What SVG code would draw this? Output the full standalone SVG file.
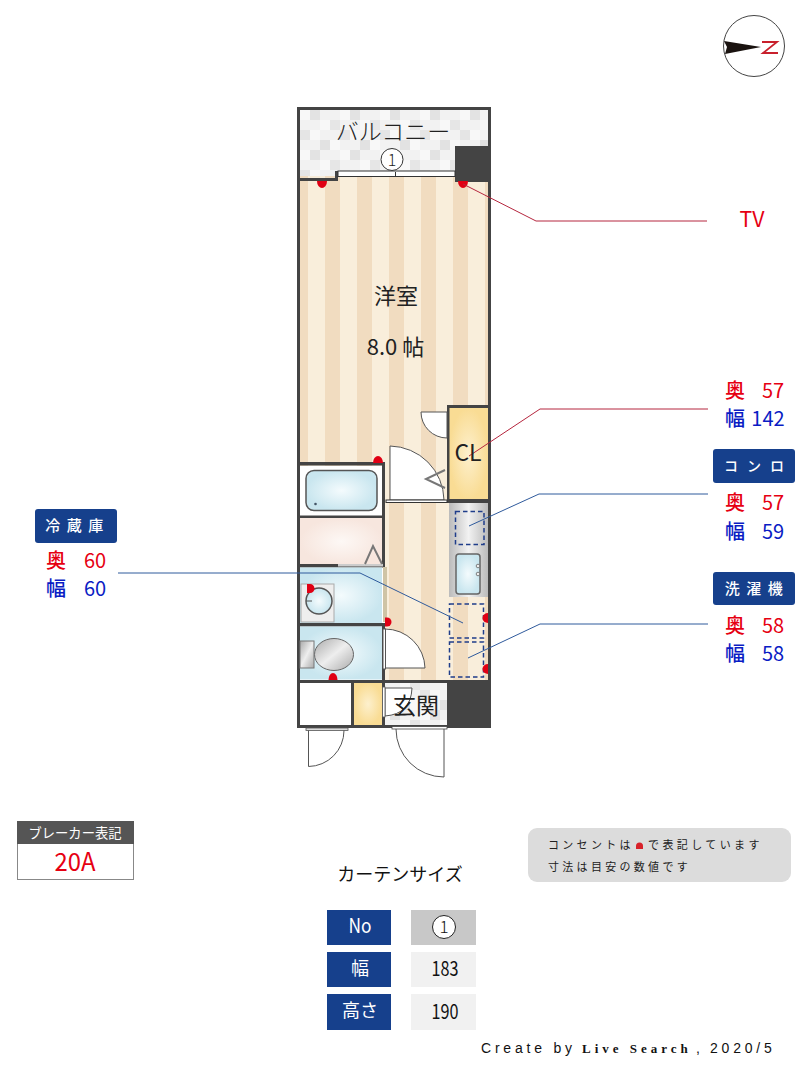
<svg xmlns="http://www.w3.org/2000/svg" width="800" height="1066" viewBox="0 0 800 1066">
<style>
text{font-family:"Noto Sans CJK JP","Noto Sans",sans-serif}
.w{fill:#444}
.red{fill:#e60012}
.blue{fill:#0a1cc4}
.lab{font-size:20px;text-anchor:middle}
.tag{font-size:15px;fill:#fff;text-anchor:middle;letter-spacing:6.500px;font-weight:500}
.dash{fill:none;stroke:#1f3d8a;stroke-width:1.500;stroke-dasharray:4.500 3}
.ln{fill:none;stroke:#555;stroke-width:1}
.door{fill:#fff;stroke:#555;stroke-width:1}
.dot{fill:#e00014}
.hd{fill:#16408c}
.tb{font-size:18px;text-anchor:middle}
.cr{font-family:"Liberation Sans",sans-serif;font-size:14px;letter-spacing:3.800px}
.cs{font-family:"Liberation Serif",serif;font-size:13px;font-weight:bold;letter-spacing:4px}
</style>
<defs>
<pattern id="st" width="32" height="10" patternUnits="userSpaceOnUse" x="293">
<rect width="32" height="10" fill="#f9eedb"/><rect width="15" height="10" fill="#f1dcc0"/>
</pattern>
<pattern id="tile" width="40" height="40" patternUnits="userSpaceOnUse" x="300" y="110">
<rect width="40" height="40" fill="#f2f2f2"/>
<rect x="10" y="0" width="10" height="10" fill="#e3e3e3"/><rect x="30" y="10" width="10" height="10" fill="#e6e6e6"/>
<rect x="0" y="20" width="10" height="10" fill="#e5e5e5"/><rect x="20" y="30" width="10" height="10" fill="#e2e2e2"/>
<rect x="20" y="10" width="10" height="10" fill="#f8f8f8"/><rect x="0" y="0" width="10" height="10" fill="#f8f8f8"/>
<rect x="30" y="30" width="10" height="10" fill="#f8f8f8"/><rect x="10" y="20" width="10" height="10" fill="#f8f8f8"/>
</pattern>
<radialGradient id="yl"><stop offset="0" stop-color="#fdf0cd"/><stop offset="1" stop-color="#f9dc94"/></radialGradient>
<radialGradient id="bl"><stop offset="0" stop-color="#f4fbfd"/><stop offset="1" stop-color="#c9e6ef"/></radialGradient>
<radialGradient id="pk"><stop offset="0" stop-color="#fdf8f5"/><stop offset="1" stop-color="#f7e6de"/></radialGradient>
<linearGradient id="gr" x1="0" x2="1" y1="0" y2="0"><stop offset="0" stop-color="#bbb"/><stop offset=".5" stop-color="#f2f2f2"/><stop offset="1" stop-color="#bbb"/></linearGradient>
<linearGradient id="sv" x1="0" x2="1" y1="0" y2="1"><stop offset="0" stop-color="#aaa"/><stop offset=".5" stop-color="#eee"/><stop offset="1" stop-color="#aaa"/></linearGradient>
</defs>

<g id="compass">
<circle cx="754" cy="46" r="30.500" fill="#fff" stroke="#444" stroke-width="1"/>
<path d="M724 41L761 47L725 54L727 47Z" fill="#1a1310"/>
<path d="M762 42H777L763 53H778" fill="none" stroke="#c8202c" stroke-width="1.800"/>
</g>

<g id="plan">
<rect x="297" y="107" width="194" height="621" fill="#fff"/>
<rect x="300" y="110" width="188" height="70" fill="url(#tile)"/>
<rect x="299" y="176" width="190" height="325" fill="url(#st)"/>
<rect x="385" y="501" width="104" height="180" fill="url(#st)"/>
<path class="w" d="M297 107H491V110H297Z"/>
<rect class="w" x="455" y="146" width="36" height="36"/>
<path class="w" d="M297 178H335V171H338V181H297Z"/>
<rect x="338" y="171" width="117" height="5.500" fill="#fff" stroke="#333" stroke-width="1"/>
<rect x="395" y="172" width="1" height="5" fill="#333"/>
<rect class="w" x="297" y="107" width="3" height="621"/>
<rect class="w" x="488" y="107" width="3" height="621"/>
<rect x="449" y="408" width="39" height="92" fill="url(#yl)"/>
<rect class="w" x="447" y="405" width="44" height="3"/>
<rect class="w" x="447" y="405" width="2.500" height="96"/>
<rect class="w" x="447" y="499" width="44" height="4"/>
<path class="door" d="M421 412H447V438A26 26 0 0 1 421 412Z"/>
<path class="door" d="M390 446A55 55 0 0 1 444 500H390Z"/>
<path d="M445 470L426 479L445 488" fill="none" stroke="#777" stroke-width="2"/>
<rect x="386" y="500" width="61" height="2.500" fill="#fff" stroke="#333" stroke-width="1"/>
<rect x="300" y="466" width="83" height="50" fill="#fff"/>
<rect x="300" y="518" width="83" height="47" fill="url(#pk)"/>
<rect class="w" x="297" y="462" width="88" height="3.500"/>
<rect class="w" x="382" y="462" width="3" height="105"/>
<rect class="w" x="297" y="515.500" width="88" height="2.500"/>
<rect class="w" x="297" y="564" width="88" height="3.500"/>
<rect x="306" y="470.500" width="71" height="40" rx="8" fill="url(#bl)" stroke="#555" stroke-width="1.500"/>
<circle cx="315.500" cy="504" r="1.300" fill="#456"/>
<rect x="338" y="564" width="45" height="2.500" fill="#ccc"/>
<path d="M365 564L373 546L382 564" fill="none" stroke="#777" stroke-width="2"/>
<rect x="300" y="567.500" width="82" height="56" fill="url(#bl)"/>
<rect x="383" y="567" width="4" height="55" fill="#cfc4a6"/>
<rect x="301" y="584" width="33" height="38" fill="#eee" stroke="#aaa" stroke-width="1"/>
<circle cx="319" cy="601" r="13" fill="url(#bl)" stroke="#555" stroke-width="1.500"/>
<path d="M306 601H312" stroke="#555" fill="none"/>
<path class="dot" d="M307 584H310A4.500 4.500 0 0 1 310 593H307Z"/>
<rect class="w" x="297" y="623" width="88" height="3.500"/>
<rect x="300" y="626.500" width="82" height="53" fill="url(#bl)"/>
<ellipse cx="334" cy="654.500" rx="19.500" ry="16" fill="url(#sv)" stroke="#666" stroke-width="1"/>
<rect x="300" y="641" width="14" height="27" fill="url(#sv)" stroke="#777" stroke-width="1"/>
<path class="dot" d="M328.500 680A4.500 7 0 0 1 337.500 680Z"/>
<rect class="w" x="382" y="623" width="3" height="57"/>
<path class="dot" d="M385 617.500H387A4.500 4.500 0 0 1 387 626.500H385Z"/>
<path class="door" d="M385 629A40 40 0 0 1 425 668H385Z"/>
<rect x="383" y="629" width="2.500" height="40" fill="#fff" stroke="#555" stroke-width="1"/>
<rect x="449" y="503" width="39" height="94" fill="url(#gr)"/>
<rect x="456" y="554" width="24" height="40" rx="3" fill="url(#bl)" stroke="#666" stroke-width="1.500"/>
<circle cx="478" cy="566" r="1.800" fill="#eee" stroke="#666" stroke-width=".8"/>
<circle cx="478" cy="574" r="1.800" fill="#eee" stroke="#666" stroke-width=".8"/>
<rect class="dash" x="455.500" y="511.500" width="28.500" height="33"/>
<rect class="dash" x="449.500" y="604" width="34" height="34"/>
<rect class="dash" x="449.500" y="642" width="34" height="35"/>
<path class="dot" d="M488 613A5.500 5 0 0 0 488 623Z"/>
<path class="dot" d="M488 664A5.500 5 0 0 0 488 674Z"/>
<path class="dot" d="M373 463A5 7 0 0 1 383 463Z"/>
<path class="dot" d="M317 181A5 7 0 0 0 327 181Z"/>
<path class="dot" d="M458 181A5 7 0 0 0 468 181Z"/>
<rect x="385" y="683" width="62" height="42" fill="url(#tile)"/>
<rect x="300" y="683" width="51" height="42" fill="#fff"/>
<rect x="354" y="683" width="28" height="42" fill="url(#yl)"/>
<rect class="w" x="297" y="680" width="194" height="3"/>
<rect class="w" x="447" y="680" width="44" height="48"/>
<rect class="w" x="351" y="683" width="3" height="42"/>
<rect class="w" x="382" y="683" width="3" height="42"/>
<rect class="w" x="297" y="725" width="150" height="3"/>
<path class="door" d="M385 688H412Q411 714 385 716Z"/>
<rect x="382.500" y="687" width="2.500" height="30" fill="#fff" stroke="#555" stroke-width=".8"/>
<rect x="306" y="728" width="42" height="2.500" fill="#ddd" stroke="#555" stroke-width=".8"/>
<path class="ln" d="M308.500 730.500V766.500A36 36 0 0 0 344 730.500"/>
<rect x="392" y="726.500" width="55" height="2.500" fill="#fff" stroke="#444" stroke-width=".8"/>
<path class="ln" d="M396 729A48 48 0 0 0 444 777V729"/>
</g>

<g id="connectors">
<path d="M463 184L536 221H707" fill="none" stroke="#b5263e" stroke-width="1"/>
<path d="M469 456L540 409H708" fill="none" stroke="#b5263e" stroke-width="1"/>
<path d="M469 526L539 494H708" fill="none" stroke="#2f5a9c" stroke-width="1"/>
<path d="M468 658L540 624H708" fill="none" stroke="#2f5a9c" stroke-width="1"/>
<path d="M118 573H360L463 623" fill="none" stroke="#2f5a9c" stroke-width="1"/>
</g>

<g id="room-labels">
<text x="393" y="140" font-size="23" text-anchor="middle" font-weight="300" fill="#222">バルコニー</text>
<circle cx="392" cy="159.500" r="11" fill="#fff" stroke="#333" stroke-width="1"/>
<text x="392" y="165.500" font-size="16" text-anchor="middle" font-weight="300" fill="#222">1</text>
<text x="396" y="304" font-size="22" text-anchor="middle" fill="#222">洋室</text>
<text x="395.500" y="355" font-size="22" text-anchor="middle" fill="#222">8.0 帖</text>
<text x="468" y="461" font-size="23" text-anchor="middle" fill="#222">CL</text>
<text x="416" y="714" font-size="23" text-anchor="middle" fill="#222">玄関</text>
</g>

<g id="label-tv"><text x="752" y="227" font-size="22" text-anchor="middle" class="red" textLength="25" lengthAdjust="spacingAndGlyphs">TV</text></g>
<g id="label-cl">
<text class="lab red" x="735" y="398" font-weight="500">奥</text><text class="lab red" x="773" y="398">57</text>
<text class="lab blue" x="735" y="426" font-weight="500">幅</text><text class="lab blue" x="768" y="426">142</text>
</g>
<g id="label-stove">
<rect class="hd" x="713" y="449" width="82" height="34" rx="3"/>
<text class="tag" x="758.500" y="471" style="font-size:14px;letter-spacing:9px">コンロ</text>
<text class="lab red" x="735" y="510" font-weight="500">奥</text><text class="lab red" x="773" y="510">57</text>
<text class="lab blue" x="735" y="539" font-weight="500">幅</text><text class="lab blue" x="773" y="539">59</text>
</g>
<g id="label-washer">
<rect class="hd" x="713" y="572" width="82" height="33" rx="3"/>
<text class="tag" x="757" y="594">洗濯機</text>
<text class="lab red" x="735" y="633" font-weight="500">奥</text><text class="lab red" x="773" y="633">58</text>
<text class="lab blue" x="735" y="661" font-weight="500">幅</text><text class="lab blue" x="773" y="661">58</text>
</g>
<g id="label-fridge">
<rect class="hd" x="35" y="509" width="82" height="34" rx="3"/>
<text class="tag" x="77.500" y="531">冷蔵庫</text>
<text class="lab red" x="56" y="568" font-weight="500">奥</text><text class="lab red" x="95" y="568">60</text>
<text class="lab blue" x="56" y="596" font-weight="500">幅</text><text class="lab blue" x="95" y="596">60</text>
</g>

<g id="breaker">
<rect x="17.500" y="821.500" width="116" height="58" fill="#fff" stroke="#888" stroke-width="1"/>
<rect x="17" y="821" width="117" height="23" fill="#555"/>
<text x="75" y="838" font-size="13.500" fill="#fff" text-anchor="middle" textLength="93" lengthAdjust="spacingAndGlyphs">ブレーカー表記</text>
<text x="75" y="871" font-size="25" class="red" text-anchor="middle" textLength="41" lengthAdjust="spacingAndGlyphs">20A</text>
</g>

<g id="note">
<rect x="528" y="828" width="263" height="54" rx="9" fill="#dcdcdc"/>
<text x="548" y="849" font-size="11" letter-spacing="3.300" fill="#222">コンセントは</text>
<path fill="#d8222a" d="M636 849V846A3.500 3.500 0 0 1 643 846V849Z"/>
<text x="648" y="849" font-size="11" letter-spacing="3.400" fill="#222">で表記しています</text>
<text x="548" y="871" font-size="11" letter-spacing="3.300" fill="#222">寸法は目安の数値です</text>
</g>

<g id="curtain">
<text x="400" y="881" font-size="18" text-anchor="middle" fill="#111">カーテンサイズ</text>
<rect class="hd" x="327" y="910" width="64" height="35"/>
<rect class="hd" x="327" y="952" width="64" height="35"/>
<rect class="hd" x="327" y="994" width="64" height="36"/>
<rect x="411" y="910" width="65" height="35" fill="#c8c8c8"/>
<rect x="411" y="952" width="65" height="35" fill="#f1f1f1"/>
<rect x="411" y="994" width="65" height="36" fill="#f1f1f1"/>
<text class="tb" x="360" y="933" fill="#fff" textLength="23" lengthAdjust="spacingAndGlyphs" style="font-size:20px">No</text>
<text class="tb" x="360" y="975" fill="#fff">幅</text>
<text class="tb" x="360" y="1017" fill="#fff">高さ</text>
<circle cx="444" cy="927" r="11.500" fill="#fff" stroke="#222" stroke-width="1"/>
<text class="tb" x="444" y="933" fill="#111" font-weight="300" style="font-size:17px">1</text>
<text class="tb" x="445" y="976" fill="#111" textLength="27" lengthAdjust="spacingAndGlyphs" style="font-size:20px">183</text>
<text class="tb" x="445" y="1019" fill="#111" textLength="27" lengthAdjust="spacingAndGlyphs" style="font-size:20px">190</text>
</g>

<g id="credit"><text y="1053" fill="#111"><tspan class="cr" x="481">Create by</tspan><tspan class="cs" x="582">Live Search</tspan><tspan class="cr" x="696">,</tspan><tspan class="cr" x="710">2020/5</tspan></text></g>
</svg>
